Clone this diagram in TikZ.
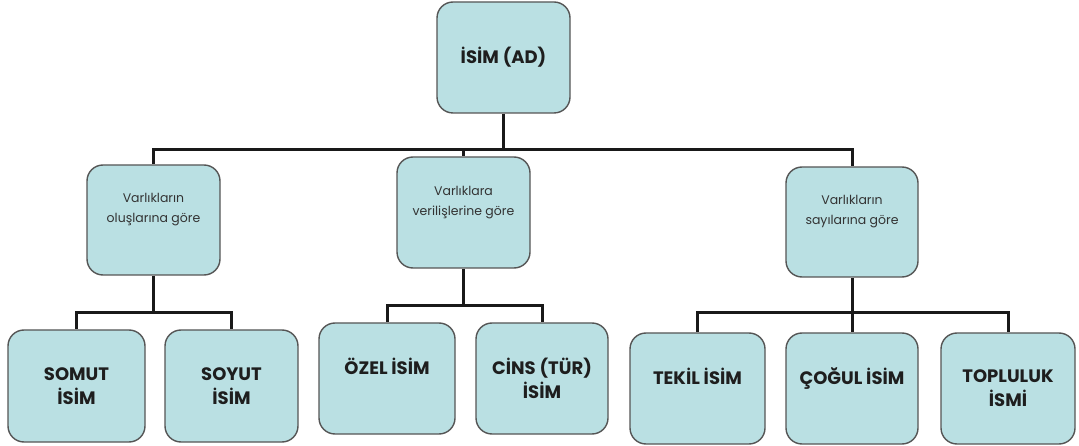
\documentclass[tikz,border=0pt]{standalone}
\usepackage{fontspec}
\setmainfont{Poppins}
\definecolor{boxfill}{RGB}{186,224,227}
\definecolor{boxline}{RGB}{85,85,85}
\definecolor{txt}{RGB}{30,30,30}
\tikzset{
  box/.style={draw=boxline, line width=1.4pt, fill=boxfill, rounded corners=16pt,
    inner sep=0pt, align=center, text=txt},
  bigbox/.style={box, font=\fontsize{18}{24}\selectfont\bfseries},
  smallbox/.style={box, font=\fontsize{12.5}{20}\selectfont, text=black!80},
  conn/.style={line width=3pt, black!90}
}
\begin{document}
\begin{tikzpicture}[x=1pt,y=-1pt]
\useasboundingbox (0,0) rectangle (1079,446);
% top
\node[bigbox, minimum width=133pt, minimum height=111pt] (top) at (503.5,57.5) {İSİM (AD)};
% level 2
\node[smallbox, minimum width=133pt, minimum height=110pt] (b1) at (153.5,220) {Varlıkların\\oluşlarına göre\\[4pt]\phantom{X}};
\node[smallbox, minimum width=133pt, minimum height=111pt] (b2) at (463.5,212.5) {Varlıklara\\verilişlerine göre\\[4pt]\phantom{X}};
\node[smallbox, minimum width=132pt, minimum height=110pt] (b3) at (852,222) {Varlıkların\\sayılarına göre\\[4pt]\phantom{X}};
% level 3
\node[bigbox, minimum width=137pt, minimum height=112pt] (l1) at (76.5,386) {SOMUT\\İSİM};
\node[bigbox, minimum width=133pt, minimum height=112pt] (l2) at (231.5,386) {SOYUT\\İSİM};
\node[bigbox, minimum width=136pt, minimum height=111pt] (l3) at (387,378.5) {ÖZEL İSİM\\\phantom{X}};
\node[bigbox, minimum width=132pt, minimum height=111pt] (l4) at (542,378.5) {CİNS (TÜR)\\İSİM};
\node[bigbox, minimum width=135pt, minimum height=111pt] (l5) at (697.5,388.5) {TEKİL İSİM\\\phantom{X}};
\node[bigbox, minimum width=132pt, minimum height=111pt] (l6) at (852,388.5) {ÇOĞUL İSİM\\\phantom{X}};
\node[bigbox, minimum width=134pt, minimum height=111pt] (l7) at (1008,388.5) {TOPLULUK\\İSMİ};
% junctions
\coordinate (j0) at (503.5,150);
\coordinate (j1) at (153.5,313);
\coordinate (j2) at (463.5,306);
\coordinate (j3) at (852,313);
% connectors
\draw[conn] (top.south) -- (j0);
\draw[conn] (j0) -| (b1.north);
\draw[conn] (j0) -| (b2.north);
\draw[conn] (j0) -| (b3.north);
\draw[conn] (b1.south) -- (j1);
\draw[conn] (j1) -| (l1.north);
\draw[conn] (j1) -| (l2.north);
\draw[conn] (b2.south) -- (j2);
\draw[conn] (j2) -| (l3.north);
\draw[conn] (j2) -| (l4.north);
\draw[conn] (b3.south) -- (j3);
\draw[conn] (j3) -| (l5.north);
\draw[conn] (j3) -- (l6.north);
\draw[conn] (j3) -| (l7.north);
\end{tikzpicture}
\end{document}
